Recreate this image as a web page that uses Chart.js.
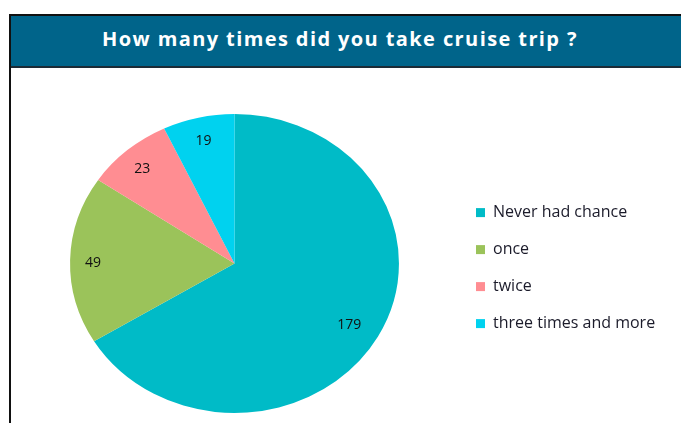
<!DOCTYPE html>
<html>
<head>
<meta charset="utf-8">
<script src="https://cdn.jsdelivr.net/npm/chart.js@4"></script>
<style>
  body { margin: 0; background: #fff; width: 681px; height: 423px; overflow: hidden; position: relative; }
  #frame { position: absolute; left: 9px; top: 14px; width: 700px; height: 430px; border-left: 2px solid #111; border-top: 2px solid #111; }
  #title { position: relative; height: 50px; background: #00648a; border-bottom: 2px solid #1c2b36; }
  #title span { position: absolute; left: 0; top: 0; width: 658px; text-align: center; color: #fff;
                font: bold 20px "Open Sans", sans-serif; line-height: 46px; letter-spacing: 1.4px; }
  #wrap { position: absolute; left: 11px; top: 68px; width: 670px; height: 355px; }
</style>
</head>
<body>
<div id="frame"><div id="title"><span>How many times did you take cruise trip ?</span></div></div>
<div id="wrap"><canvas id="c"></canvas></div>
<script>
const categories = ['Never had chance', 'once', 'twice', 'three times and more'];
const counts = [179, 49, 23, 19];
const colors = ['#00bbc7', '#9bc35a', '#ff8d92', '#00d2ef'];

const stretchX = 1.1;   // the original pie is a bit wider than tall
const legendFont = { family: '"Open Sans", sans-serif', size: 16 };

// measure widest legend label so the legend can be placed where it sits in the original
const mctx = document.createElement('canvas').getContext('2d');
mctx.font = legendFont.size + 'px ' + legendFont.family;
const maxText = Math.max(...categories.map(t => mctx.measureText(t).width));
const legendPad = 21;
const legendWidth = legendPad + 10 + 9 + legendFont.size / 2 + maxText;
const legendLeft = 465 - legendPad;

const stretch = {
    id: 'stretch',
    beforeDatasetsDraw(chart) {
        const arc = chart.getDatasetMeta(0).data[0];
        const ctx = chart.ctx;
        ctx.save();
        ctx.translate(arc.x, arc.y);
        ctx.scale(stretchX, 1);
        ctx.translate(-arc.x, -arc.y);
    },
    afterDatasetsDraw(chart) {
        chart.ctx.restore();
        // value labels
        const ctx = chart.ctx;
        ctx.save();
        ctx.font = '14px "Open Sans", sans-serif';
        ctx.fillStyle = '#111';
        ctx.textAlign = 'center';
        ctx.textBaseline = 'middle';
        chart.getDatasetMeta(0).data.forEach((arc, i) => {
            const mid = (arc.startAngle + arc.endAngle) / 2;
            const r = arc.outerRadius * (i === 0 ? 0.8 : 0.86);
            ctx.fillText(counts[i], arc.x + Math.cos(mid) * r * stretchX, arc.y + Math.sin(mid) * r + 3);
        });
        ctx.restore();
    }
};

new Chart(document.getElementById('c'), {
    type: 'pie',
    data: {
        labels: categories,
        datasets: [{ data: counts, backgroundColor: colors, borderWidth: 0 }]
    },
    options: {
        responsive: true,
        maintainAspectRatio: false,
        animation: false,
        layout: { padding: { left: 3, top: 46, bottom: 10, right: 670 - legendLeft - legendWidth } },
        plugins: {
            legend: {
                position: 'right',
                title: { display: true, text: ' ', font: { size: 1 }, padding: 4 },
                labels: { boxWidth: 9, boxHeight: 9, padding: legendPad, color: '#1b1b2a', font: legendFont }
            },
            tooltip: { enabled: false }
        }
    },
    plugins: [stretch]
});
</script>
</body>
</html>
